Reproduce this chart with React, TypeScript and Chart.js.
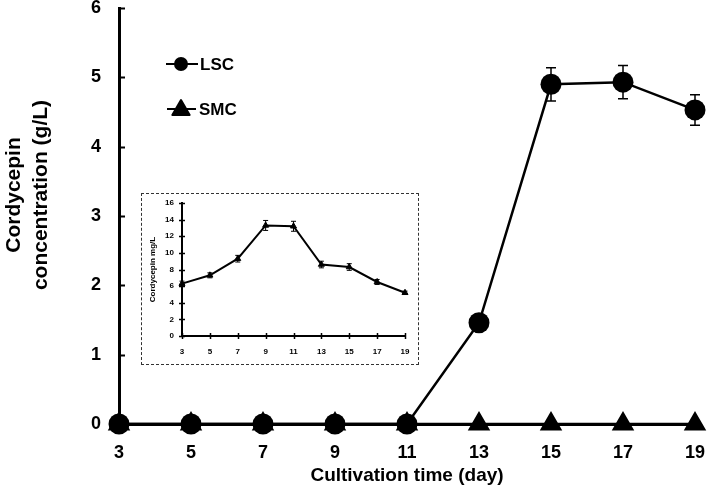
import React, { useEffect, useRef } from "react";
import { Chart, registerables } from "chart.js";

Chart.register(...registerables);

const days = [3, 5, 7, 9, 11, 13, 15, 17, 19];
const lscValues = [0, 0, 0, 0, 0, 1.46, 4.9, 4.93, 4.53];
const lscErrors = [0, 0, 0, 0, 0, 0, 0.24, 0.24, 0.22];
const smcValues = [0, 0, 0, 0, 0, 0, 0, 0, 0];
const insetValues = [6.3, 7.3, 9.3, 13.3, 13.2, 8.6, 8.3, 6.5, 5.2];
const insetErrors = [0.3, 0.3, 0.4, 0.6, 0.6, 0.4, 0.4, 0.3, 0.2];

const xTitle = "Cultivation time (day)";
const yTitleLines = ["Cordycepin", "concentration (g/L)"];
const insetYTitle = "Cordycepin mg/L";
const legendLabels = ["LSC", "SMC"];

const FONT = "'Liberation Sans', Arial, Helvetica, sans-serif";

const errorBarPlugin = {
  id: "errorBars",
  beforeDatasetsDraw(chart: any, _args: any, opts: any) {
    const ctx = chart.ctx;
    const ys = chart.scales.y;
    chart.data.datasets.forEach((ds: any, di: number) => {
      if (!ds.errors) return;
      const meta = chart.getDatasetMeta(di);
      ctx.save();
      ctx.strokeStyle = "#000";
      ctx.lineWidth = opts.lineWidth || 1.5;
      const cap = opts.cap || 4;
      meta.data.forEach((pt: any, i: number) => {
        const e = ds.errors[i];
        if (!e) return;
        const v = ds.data[i].y;
        const x = pt.x;
        const top = ys.getPixelForValue(v + e);
        const bot = ys.getPixelForValue(v - e);
        ctx.beginPath();
        ctx.moveTo(x, top);
        ctx.lineTo(x, bot);
        ctx.moveTo(x - cap, top);
        ctx.lineTo(x + cap, top);
        ctx.moveTo(x - cap, bot);
        ctx.lineTo(x + cap, bot);
        ctx.stroke();
      });
      ctx.restore();
    });
  },
};

const tickMarksPlugin = {
  id: "tickMarks",
  afterDraw(chart: any, _args: any, opts: any) {
    const { ctx, chartArea } = chart;
    ctx.save();
    ctx.strokeStyle = "#000";
    ctx.lineWidth = opts.width || 1.5;
    ctx.beginPath();
    const ys = chart.scales.y;
    ys.ticks.forEach((t: any) => {
      const y = Math.round(ys.getPixelForValue(t.value)) + 0.5;
      ctx.moveTo(chartArea.left - (opts.yOut || 0), y);
      ctx.lineTo(chartArea.left + (opts.yIn || 0), y);
    });
    const xs = chart.scales.x;
    if (opts.xIn || opts.xOut) {
      xs.ticks.forEach((t: any) => {
        const x = Math.round(xs.getPixelForValue(t.value)) + 0.5;
        ctx.moveTo(x, chartArea.bottom + (opts.xOut || 0));
        ctx.lineTo(x, chartArea.bottom - (opts.xIn || 0));
      });
    }
    ctx.stroke();
    ctx.restore();
  },
};

const yTitlePlugin = {
  id: "yTitleCustom",
  afterDraw(chart: any, _args: any, opts: any) {
    const ctx = chart.ctx;
    ctx.save();
    ctx.fillStyle = "#000";
    ctx.font = opts.font;
    ctx.textAlign = "center";
    ctx.textBaseline = "middle";
    (opts.lines as string[]).forEach((line, i) => {
      ctx.save();
      ctx.translate(opts.xs[i], opts.cy);
      ctx.rotate(-Math.PI / 2);
      ctx.fillText(line, 0, 0);
      ctx.restore();
    });
    ctx.restore();
  },
};

function drawTriangle(ctx: CanvasRenderingContext2D, x: number, y: number, r: number) {
  ctx.beginPath();
  for (let k = 0; k < 3; k++) {
    const a = (k * 2 * Math.PI) / 3;
    const px = x + Math.sin(a) * r;
    const py = y - Math.cos(a) * r;
    if (k === 0) ctx.moveTo(px, py);
    else ctx.lineTo(px, py);
  }
  ctx.closePath();
}

const legendPlugin = {
  id: "customLegend",
  afterDraw(chart: any) {
    const ctx = chart.ctx;
    ctx.save();
    ctx.strokeStyle = "#000";
    ctx.fillStyle = "#000";
    ctx.lineWidth = 2;
    // LSC
    ctx.beginPath();
    ctx.moveTo(166, 64);
    ctx.lineTo(198, 64);
    ctx.stroke();
    ctx.beginPath();
    ctx.arc(181, 64, 7, 0, Math.PI * 2);
    ctx.fill();
    // SMC
    ctx.beginPath();
    ctx.moveTo(167, 109);
    ctx.lineTo(196, 109);
    ctx.stroke();
    ctx.lineJoin = "round";
    drawTriangle(ctx, 181, 110, 10);
    ctx.fill();
    ctx.stroke();
    ctx.font = `bold 17px ${FONT}`;
    ctx.textAlign = "left";
    ctx.textBaseline = "middle";
    ctx.fillText(legendLabels[0], 200, 65);
    ctx.fillText(legendLabels[1], 199, 110);
    ctx.restore();
  },
};

export default function App() {
  const mainRef = useRef<HTMLCanvasElement>(null);
  const insetRef = useRef<HTMLCanvasElement>(null);

  useEffect(() => {
    const main = new Chart(mainRef.current as HTMLCanvasElement, {
      type: "line",
      data: {
        datasets: [
          {
            label: legendLabels[0],
            data: days.map((d, i) => ({ x: d, y: lscValues[i] })),
            errors: lscErrors,
            borderColor: "#000",
            backgroundColor: "#000",
            borderWidth: 2.5,
            pointStyle: "circle",
            pointRadius: 10.5,
            pointBorderWidth: 0,
            pointBackgroundColor: "#000",
            clip: false,
          } as any,
          {
            label: legendLabels[1],
            data: days.map((d, i) => ({ x: d, y: smcValues[i] })),
            borderColor: "#000",
            backgroundColor: "#000",
            borderWidth: 2.5,
            pointStyle: "triangle",
            pointRadius: 11,
            pointBorderWidth: 2,
            pointBackgroundColor: "#000",
            pointBorderColor: "#000",
            clip: false,
          } as any,
        ],
      },
      options: {
        animation: false,
        responsive: false,
        maintainAspectRatio: false,
        layout: { autoPadding: false, padding: { top: 8, right: 12, left: 0, bottom: 0 } },
        plugins: {
          legend: { display: false },
          tooltip: { enabled: false },
          errorBars: { lineWidth: 1.5, cap: 5 },
          tickMarks: { yIn: 6, yOut: 0, width: 2 },
          yTitleCustom: {
            lines: yTitleLines,
            xs: [14, 41],
            cy: 195,
            font: `bold 21px ${FONT}`,
          },
        } as any,
        scales: {
          x: {
            type: "linear",
            min: 3,
            max: 19,
            grid: { display: false, drawTicks: false },
            border: { display: true, color: "#000", width: 3 },
            ticks: {
              stepSize: 2,
              color: "#000",
              padding: 18,
              font: { family: FONT, size: 18, weight: "bold" },
            },
            title: {
              display: true,
              text: xTitle,
              color: "#000",
              padding: { top: 0, bottom: 0 },
              font: { family: FONT, size: 19, weight: "bold" },
            },
            afterFit: (s: any) => {
              s.height = 63;
              s.paddingLeft = 0;
              s.paddingRight = 0;
            },
          },
          y: {
            type: "linear",
            min: 0,
            max: 6,
            grid: { display: false, drawTicks: false },
            border: { display: true, color: "#000", width: 3 },
            ticks: {
              stepSize: 1,
              color: "#000",
              padding: 18,
              font: { family: FONT, size: 18, weight: "bold" },
            },
            afterFit: (s: any) => {
              s.width = 119;
              s.paddingTop = 0;
              s.paddingBottom = 0;
            },
          },
        },
      },
      plugins: [errorBarPlugin, tickMarksPlugin, yTitlePlugin, legendPlugin],
    });

    const inset = new Chart(insetRef.current as HTMLCanvasElement, {
      type: "line",
      data: {
        datasets: [
          {
            data: days.map((d, i) => ({ x: d, y: insetValues[i] })),
            errors: insetErrors,
            borderColor: "#000",
            backgroundColor: "#000",
            borderWidth: 2,
            pointStyle: "triangle",
            pointRadius: 3.5,
            pointBorderWidth: 1,
            pointBackgroundColor: "#000",
            clip: false,
          } as any,
        ],
      },
      options: {
        animation: false,
        responsive: false,
        maintainAspectRatio: false,
        layout: { autoPadding: false, padding: { top: 9, right: 13, left: 0, bottom: 0 } },
        plugins: {
          legend: { display: false },
          tooltip: { enabled: false },
          errorBars: { lineWidth: 1, cap: 2.5 },
          tickMarks: { yIn: 3, yOut: 3, xIn: 3, xOut: 3, width: 1.5 },
        } as any,
        scales: {
          x: {
            type: "linear",
            min: 3,
            max: 19,
            grid: { display: false, drawTicks: false },
            border: { display: true, color: "#000", width: 2 },
            ticks: {
              stepSize: 2,
              color: "#000",
              padding: 11,
              font: { family: FONT, size: 8, weight: "bold" },
            },
            afterFit: (s: any) => {
              s.height = 28;
              s.paddingLeft = 0;
              s.paddingRight = 0;
            },
          },
          y: {
            type: "linear",
            min: 0,
            max: 16,
            grid: { display: false, drawTicks: false },
            border: { display: true, color: "#000", width: 2 },
            ticks: {
              stepSize: 2,
              color: "#000",
              padding: 8,
              font: { family: FONT, size: 8, weight: "bold" },
            },
            title: {
              display: true,
              text: insetYTitle,
              color: "#000",
              padding: { top: 6, bottom: 0 },
              font: { family: FONT, size: 8, weight: "bold" },
            },
            afterFit: (s: any) => {
              s.width = 40;
              s.paddingTop = 0;
              s.paddingBottom = 0;
            },
          },
        },
      },
      plugins: [errorBarPlugin, tickMarksPlugin],
    });

    return () => {
      main.destroy();
      inset.destroy();
    };
  }, []);

  return (
    <div style={{ position: "absolute", left: 0, top: 0, width: 707, height: 487, background: "#fff" }}>
      <canvas ref={mainRef} width={707} height={487} style={{ position: "absolute", left: 0, top: 0, width: 707, height: 487 }} />
      <div
        style={{
          position: "absolute",
          left: 141,
          top: 193,
          width: 276,
          height: 170,
          border: "1px dashed #333",
          background: "#fff",
        }}
      >
        <canvas ref={insetRef} width={276} height={170} style={{ display: "block", width: 276, height: 170 }} />
      </div>
    </div>
  );
}
